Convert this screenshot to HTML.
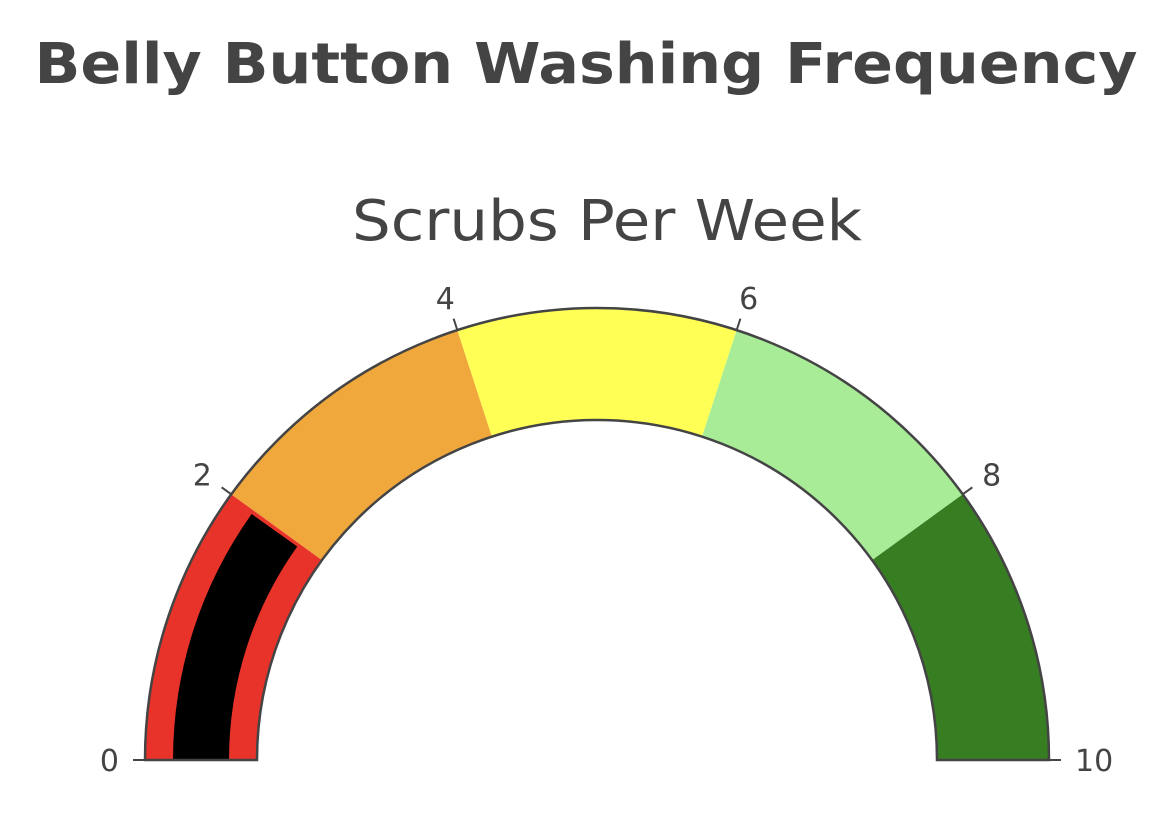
<!DOCTYPE html>
<html><head><meta charset="utf-8"><style>
body{margin:0;background:#fff;}
svg{display:block;font-family:"DejaVu Sans","Liberation Sans",sans-serif;}
</style></head><body>
<svg id="g" width="1174" height="813">
<text x="586" y="83" text-anchor="middle" font-size="56" font-weight="bold" fill="#444" textLength="1103" lengthAdjust="spacingAndGlyphs">Belly Button Washing Frequency</text>
<text x="607" y="240" text-anchor="middle" font-size="56" fill="#444" textLength="510" lengthAdjust="spacingAndGlyphs">Scrubs Per Week</text>
</svg>
<script>
const stepStarts=[0,2,4,6,8];
const stepEnds=[2,4,6,8,10];
const stepColors=["#e8332a","#f0a83c","#ffff55","#a8ec98","#377d22"];
const tickValues=[0,2,4,6,8,10];
const tickLabels=["0","2","4","6","8","10"];
const gaugeValue=1.97;
const gMin=0,gMax=10;
const cx=597,cy=760,R=452,r=340,bR=424,br=368;
const NS="http://www.w3.org/2000/svg";
const svg=document.getElementById('g');
function ang(v){return Math.PI*(1-(v-gMin)/(gMax-gMin));}
function pt(v,rad){const a=ang(v);return [cx+rad*Math.cos(a),cy-rad*Math.sin(a)];}
function arc(v0,v1,ro,ri){
  const a=pt(v0,ro),b=pt(v1,ro),c=pt(v1,ri),d=pt(v0,ri);
  return `M${a[0]},${a[1]} A${ro},${ro} 0 0 1 ${b[0]},${b[1]} L${c[0]},${c[1]} A${ri},${ri} 0 0 0 ${d[0]},${d[1]} Z`;
}
stepStarts.forEach((s,i)=>{
  const p=document.createElementNS(NS,'path');
  p.setAttribute('d',arc(s,stepEnds[i],R,r));
  p.setAttribute('fill',stepColors[i]);
  
  
  svg.appendChild(p);
});
const bar=document.createElementNS(NS,'path');
bar.setAttribute('d',arc(gMin,gaugeValue,bR,br));
bar.setAttribute('fill','#000');


svg.appendChild(bar);
const border=document.createElementNS(NS,'path');
border.setAttribute('d',arc(gMin,gMax,R,r));
border.setAttribute('fill','none');border.setAttribute('stroke','#444');border.setAttribute('stroke-width','2.5');


svg.appendChild(border);
tickValues.forEach((v,i)=>{
  const a=pt(v,R),b=pt(v,R+12),t=pt(v,R+34);
  const l=document.createElementNS(NS,'line');
  l.setAttribute('x1',a[0]);l.setAttribute('y1',a[1]);l.setAttribute('x2',b[0]);l.setAttribute('y2',b[1]);
  l.setAttribute('stroke','#444');l.setAttribute('stroke-width','2');
  
  
  svg.appendChild(l);
  const tx=document.createElementNS(NS,'text');
  const an=ang(v);
  let anchor=Math.cos(an)>0.3?'start':(Math.cos(an)<-0.3?'end':'middle');
  tx.setAttribute('x',t[0]+(anchor==='start'?-8:anchor==='end'?8:0));
  tx.setAttribute('y',t[1]+11);
  tx.setAttribute('text-anchor',anchor);
  tx.setAttribute('font-size','30');tx.setAttribute('fill','#444');
  tx.textContent=tickLabels[i];
  
  
  svg.appendChild(tx);
});
</script>
</body></html>
